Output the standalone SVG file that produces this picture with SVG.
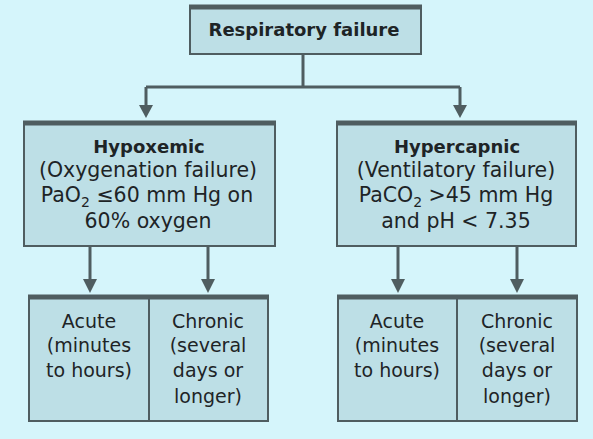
<svg xmlns="http://www.w3.org/2000/svg" width="593" height="439" viewBox="0 0 593 439">
<defs>
<style>
.box{fill:#bddfe6;stroke:#4f5d60;stroke-width:2}
.top{stroke:#4f5d60;stroke-width:5}
.ln{stroke:#4f5d60;stroke-width:3;fill:none}
.ah{fill:#4f5d60}
text{font-family:"DejaVu Sans","Liberation Sans",Arial,sans-serif;font-size:20.5px;fill:#1e2426;text-anchor:middle}
.b{font-weight:bold;font-size:18px}
.s{font-size:19px}
.sub{font-size:14px}
</style>
</defs>
<rect width="593" height="439" fill="#d5f5fb"/>
<g id="connectors">
<path class="ln" d="M303,54 V87"/>
<path class="ln" d="M146,87 H460"/>
<path d="M146,87 V108" class="ln"/><path d="M139,105 L153,105 L146,118 Z" class="ah"/>
<path d="M460,87 V108" class="ln"/><path d="M453,105 L467,105 L460,118 Z" class="ah"/>
<path d="M90,246 V282" class="ln"/><path d="M83,279 L97,279 L90,293 Z" class="ah"/>
<path d="M208,246 V282" class="ln"/><path d="M201,279 L215,279 L208,293 Z" class="ah"/>
<path d="M398,246 V282" class="ln"/><path d="M391,279 L405,279 L398,293 Z" class="ah"/>
<path d="M517,246 V282" class="ln"/><path d="M510,279 L524,279 L517,293 Z" class="ah"/>
</g>
<g id="respiratory-failure">
<rect class="box" x="190" y="6" width="231" height="48"/>
<line class="top" x1="189" y1="7" x2="422" y2="7"/>
<text class="b" x="304" y="36">Respiratory failure</text>
</g>
<g id="hypoxemic">
<rect class="box" x="24" y="122" width="251" height="124"/>
<line class="top" x1="23" y1="123" x2="276" y2="123"/>
<text class="b" x="149" y="153">Hypoxemic</text>
<text x="148" y="177">(Oxygenation failure)</text>
<text x="147" y="202">PaO<tspan class="sub" dy="5">2</tspan><tspan dy="-5"> ≤60 mm Hg on</tspan></text>
<text x="148" y="228">60% oxygen</text>
</g>
<g id="hypercapnic">
<rect class="box" x="337" y="122" width="239" height="124"/>
<line class="top" x1="336" y1="123" x2="577" y2="123"/>
<text class="b" x="457" y="153">Hypercapnic</text>
<text x="456" y="177">(Ventilatory failure)</text>
<text x="456" y="202">PaCO<tspan class="sub" dy="5">2</tspan><tspan dy="-5"> &gt;45 mm Hg</tspan></text>
<text x="456" y="228">and pH &lt; 7.35</text>
</g>
<g id="hypoxemic-acute">
<rect class="box" x="29" y="296" width="120" height="125"/>
<line class="top" x1="28" y1="297" x2="149" y2="297"/>
<text class="s" x="89" y="328">Acute</text>
<text class="s" x="89" y="352">(minutes</text>
<text class="s" x="89" y="377">to hours)</text>
</g>
<g id="hypoxemic-chronic">
<rect class="box" x="149" y="296" width="119" height="125"/>
<line class="top" x1="149" y1="297" x2="269" y2="297"/>
<text class="s" x="208" y="328">Chronic</text>
<text class="s" x="208" y="352">(several</text>
<text class="s" x="208" y="377">days or</text>
<text class="s" x="208" y="403">longer)</text>
</g>
<g id="hypercapnic-acute">
<rect class="box" x="338" y="296" width="119" height="125"/>
<line class="top" x1="337" y1="297" x2="457" y2="297"/>
<text class="s" x="397" y="328">Acute</text>
<text class="s" x="397" y="352">(minutes</text>
<text class="s" x="397" y="377">to hours)</text>
</g>
<g id="hypercapnic-chronic">
<rect class="box" x="457" y="296" width="120" height="125"/>
<line class="top" x1="457" y1="297" x2="578" y2="297"/>
<text class="s" x="517" y="328">Chronic</text>
<text class="s" x="517" y="352">(several</text>
<text class="s" x="517" y="377">days or</text>
<text class="s" x="517" y="403">longer)</text>
</g>
</svg>
